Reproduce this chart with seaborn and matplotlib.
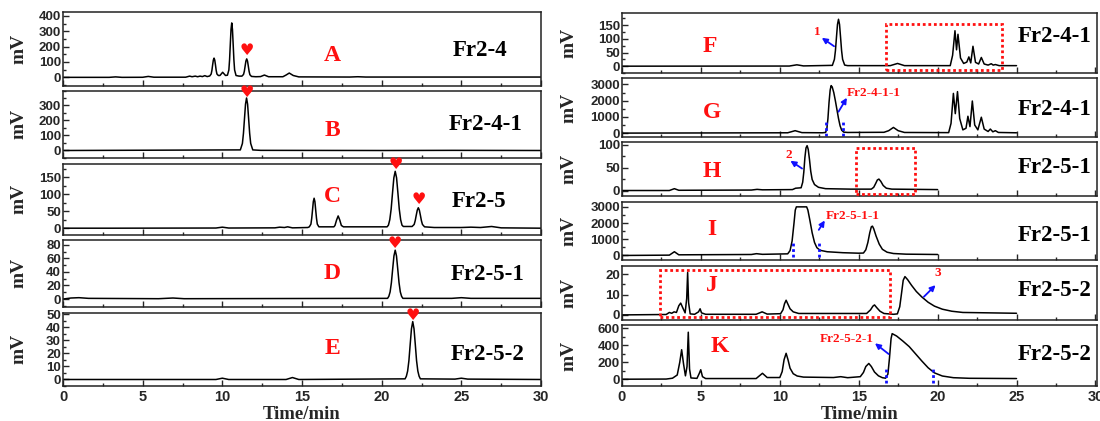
import matplotlib
matplotlib.use("Agg")
import matplotlib.pyplot as plt
from matplotlib.patches import Rectangle
from matplotlib.ticker import MultipleLocator
import seaborn as sns

# ---------------- data ----------------
a_t = [0, 2.9, 3.3, 3.7, 5.0, 5.35, 5.7, 7.7, 7.95, 8.1, 8.3, 8.45, 8.6, 8.75, 8.9, 9.05,
       9.21, 9.3, 9.345, 9.39, 9.435, 9.48, 9.525, 9.57, 9.615, 9.66, 9.75, 9.85, 10.02, 10.2,
       10.32, 10.41, 10.455, 10.5, 10.545, 10.59, 10.635, 10.68, 10.725, 10.77, 10.86, 11.05,
       11.23, 11.33, 11.38, 11.43, 11.48, 11.53, 11.58, 11.63, 11.68, 11.73, 11.83, 12.1, 12.4,
       12.64, 12.9, 13.8, 14.0, 14.2, 14.45, 14.8, 18.0, 18.5, 19.0, 30]
a_mv = [0, 0, 3, 0, 0.5, 6, 1, 1, 8, 4, 8, 4, 8, 5, 11, 5,
        9, 22, 45, 80, 112, 125, 112, 80, 45, 22, 12, 12, 33, 12,
        14, 48, 115, 215, 312, 354, 312, 215, 115, 48, 12, 8,
        8, 19, 39, 73, 106, 120, 106, 73, 39, 17, 6, 4, 5,
        15, 4, 4, 15, 28, 12, 3, 2, 4, 2, 2]

b_t = [0, 11.13, 11.26, 11.325, 11.39, 11.455, 11.52, 11.585, 11.65, 11.715, 11.78, 11.91, 12.4, 20, 24.5, 30]
b_mv = [0, 4, 47, 114, 212, 309, 350, 309, 212, 114, 47, 4, 1, 0, 1, 0]

c_t = [0, 3, 9.6, 10.0, 10.4, 13.3, 13.6, 13.9, 14.1, 14.4, 15.36, 15.46, 15.56, 15.61, 15.66, 15.71, 15.76,
       15.81, 15.86, 15.91, 15.96, 16.06, 16.3, 17.0, 17.07, 17.17, 17.27, 17.37, 17.47, 17.6,
       20.34, 20.425, 20.51, 20.595, 20.68, 20.765, 20.85, 20.935, 21.02, 21.105, 21.19, 21.275, 21.36,
       21.91, 22.04, 22.105, 22.17, 22.235, 22.3, 22.365, 22.43, 22.495, 22.56, 22.69, 23.3,
       25.0, 25.6, 26.2, 26.9, 27.5, 30]
c_mv = [0, 0, 0.5, 3, 0.5, 1, 3, 2, 4, 1, 2, 4, 12, 29, 53, 78, 88,
        78, 53, 29, 12, 4, 4, 4, 8, 24, 36, 24, 8, 4,
        4, 9, 25, 56, 103, 148, 167, 148, 103, 56, 25, 9, 5,
        5, 11, 22, 38, 53, 60, 53, 38, 22, 11, 4, 2,
        2, 3, 2, 5, 1, 0]

d_t = [0, 0.5, 1.0, 1.6, 6.0, 6.9, 7.6, 20.37, 20.45, 20.53, 20.61, 20.69, 20.77, 20.85, 20.93, 21.01, 21.09,
       21.17, 21.25, 21.33, 24.4, 25.0, 25.6, 30]
d_mv = [0, 1.5, 2, 1, 0.5, 1.5, 0.5, 1, 4, 10.5, 24, 44, 63.5, 72, 63.5, 44, 24,
        10.5, 4, 1, 1, 2, 1, 1]

e_t = [0, 9.6, 10.0, 10.4, 14.0, 14.4, 14.8, 21.47, 21.55, 21.63, 21.71, 21.79, 21.87, 21.95, 22.03, 22.11,
       22.19, 22.27, 22.35, 22.43, 24.6, 25.0, 25.4, 30]
e_mv = [0, 0, 1, 0, 0, 1.5, 0, 0.5, 2.5, 6.5, 14.5, 27, 39, 44.5, 39, 27,
        14.5, 6.5, 2.5, 0.5, 0.3, 1, 0.3, 0]

f_t = [0, 10.6, 11.08, 11.5, 13.33, 13.46, 13.525, 13.59, 13.655, 13.72, 13.785, 13.85, 13.915, 13.98, 14.11,
       14.3, 17.0, 17.46, 17.9, 20.8, 20.95, 21.1, 21.2, 21.29, 21.45, 21.65, 21.85, 21.98, 22.1, 22.24, 22.4,
       22.6, 22.77, 22.95, 23.2, 23.4, 23.52, 23.66, 23.9, 25]
f_mv = [0, 0.5, 5, 1, 3, 25, 57, 106, 153, 172, 153, 106, 57, 25, 4,
        2, 2, 10, 2, 2, 40, 130, 60, 117, 30, 10, 15, 34, 12, 73, 14,
        8, 32, 8, 4, 9, 4, 6, 2, 2]

g_t = [0, 10.5, 10.97, 11.4, 12.7, 12.9, 12.98, 13.05, 13.12, 13.19, 13.25, 13.32, 13.42, 13.52, 13.62, 13.72,
       13.82, 13.92, 14.05, 14.3, 16.6, 16.9, 17.2, 17.5, 17.9, 20.7, 20.85, 21.0, 21.12, 21.26, 21.4, 21.6,
       21.8, 21.92, 22.05, 22.2, 22.35, 22.55, 22.77, 22.95, 23.2, 23.34, 23.5, 23.66, 23.85, 25]
g_mv = [0, 20, 150, 30, 20, 40, 250, 900, 1900, 2650, 2930, 2850, 2500, 2000, 1450, 900,
        450, 180, 60, 40, 50, 150, 350, 150, 40, 30, 600, 2450, 1200, 2560, 900, 200,
        300, 1040, 400, 1980, 500, 200, 980, 250, 100, 250, 80, 150, 40, 20]

h_t = [0, 3.0, 3.32, 3.6, 8.2, 8.56, 8.9, 10.8, 11.0, 11.35, 11.45, 11.52, 11.59, 11.66, 11.73, 11.8, 11.88,
       11.96, 12.05, 12.2, 12.45, 12.9, 14.5, 15.8, 15.95, 16.07, 16.18, 16.28, 16.4, 16.55, 16.75, 17.1, 20]
h_mv = [0, 0, 4, 0.5, 1, 2.5, 1.5, 2, 5, 6, 18, 40, 72, 93, 98, 90, 68,
        42, 24, 13, 7, 4, 3, 3, 7, 15, 23, 25, 20, 11, 5, 3, 2]

i_t = [0, 3.0, 3.32, 3.6, 8.2, 8.52, 8.9, 10.5, 10.65, 10.78, 10.9, 10.98, 11.05, 11.7, 11.78, 11.9, 12.05,
       12.2, 12.35, 12.55, 13.0, 14.0, 15.0, 15.3, 15.45, 15.58, 15.7, 15.8, 15.87, 15.95, 16.1, 16.3, 16.5,
       16.8, 17.2, 18, 20]
i_mv = [0, 20, 230, 40, 60, 110, 70, 100, 300, 900, 2000, 2800, 3000, 3000, 2800, 2200, 1400,
        800, 480, 320, 230, 170, 140, 150, 350, 800, 1400, 1770, 1810, 1650, 1200, 700, 380,
        200, 120, 80, 60]

j_t = [0, 2.8, 3.0, 3.15, 3.3, 3.45, 3.6, 3.72, 3.85, 4.0, 4.1, 4.16, 4.22, 4.32, 4.6, 4.85, 4.95, 5.04, 5.3,
       8.5, 8.88, 9.2, 10.05, 10.2, 10.3, 10.4, 10.5, 10.65, 10.85, 11.2, 15.5, 15.75, 15.9, 16.0, 16.15, 16.35,
       16.6, 17.2, 17.45, 17.6, 17.72, 17.82, 17.93, 18.1, 18.35, 18.65, 19.0, 19.4, 19.8, 20.3, 20.9, 21.6, 25]
j_mv = [0, 0.2, 1.2, 0.8, 1.5, 1.2, 4.5, 5.8, 3.5, 1, 8, 20.8, 6, 0.5, 0.3, 1.5, 3, 1, 0.3,
        0.3, 1.5, 0.4, 0.6, 2.5, 5.5, 7.2, 5.5, 3, 1.5, 0.7, 0.7, 2.5, 4.3, 4.9, 3.5, 1.8,
        0.7, 0.3, 0.5, 4, 11, 17, 18.8, 17.3, 14.5, 11.5, 8.8, 6.2, 4.3, 2.8, 1.8, 1.2, 0.8]

k_t = [0, 2.8, 3.2, 3.5, 3.66, 3.78, 3.9, 4.02, 4.12, 4.2, 4.28, 4.37, 4.75, 4.9, 4.99, 5.1, 5.3, 8.5, 8.9, 9.2,
       10.0, 10.15, 10.27, 10.4, 10.52, 10.65, 10.85, 11.1, 11.5, 13.4, 13.86, 14.3, 15.1, 15.3, 15.45, 15.64,
       15.8, 16.0, 16.25, 16.5, 16.7, 16.85, 16.95, 17.05, 17.12, 17.4, 17.8, 18.2, 18.6, 19.0, 19.4, 19.8,
       20.3, 21.0, 22, 25]
k_mv = [0, 2, 12, 50, 200, 348, 180, 40, 150, 555, 120, 15, 10, 70, 112, 30, 8, 8, 70, 20,
        20, 90, 230, 306, 230, 130, 65, 38, 25, 20, 30, 18, 30, 80, 150, 186,
        150, 85, 40, 18, 12, 60, 250, 480, 538, 510, 450, 385, 300, 215, 135, 75,
        38, 18, 11, 8]

left_letters = ["A", "B", "C", "D", "E"]
left_names = ["Fr2-4", "Fr2-4-1", "Fr2-5", "Fr2-5-1", "Fr2-5-2"]
right_letters = ["F", "G", "H", "I", "J", "K"]
right_names = ["Fr2-4-1", "Fr2-4-1", "Fr2-5-1", "Fr2-5-1", "Fr2-5-2", "Fr2-5-2"]

left_yticks = [[0, 100, 200, 300, 400], [0, 100, 200, 300], [0, 50, 100, 150], [0, 20, 40, 60, 80],
               [0, 10, 20, 30, 40, 50]]
right_yticks = [[0, 50, 100, 150], [0, 1000, 2000, 3000], [0, 50, 100], [0, 1000, 2000, 3000], [0, 10, 20],
                [0, 200, 400, 600]]
x_ticks = [0, 5, 10, 15, 20, 25, 30]

# hearts marking target peaks (panel index, time, mV)
heart_t = [11.53, 11.52, 20.87, 22.35, 20.85, 21.95]
heart_mv = [172, 388, 186, 84, 82, 49.5]
heart_panel = [0, 1, 2, 2, 3, 4]

# ---------------- style ----------------
sns.set_style("ticks")
plt.rcParams["font.family"] = ["Liberation Serif", "DejaVu Sans"]
plt.rcParams["font.weight"] = "bold"
plt.rcParams["axes.linewidth"] = 1.1
plt.rcParams["axes.edgecolor"] = "#222222"

fig = plt.figure(figsize=(11, 4.21), dpi=100)
W, H = 1100, 421


def make_axes(l, r, t, b):
    return fig.add_axes([l / W, 1 - b / H, (r - l) / W, (b - t) / H])


left_box = [(12, 85.5), (90.5, 158), (163.5, 235), (240, 306.5), (312.5, 386)]
right_box = [(13, 73), (78, 137), (142, 196), (202, 260), (266, 320), (325, 386)]
left_ylim = [(-53, 425), (-50, 400), (-20, 190), (-11, 87), (-5, 51.5)]
right_ylim = [(-25, 195), (-240, 3400), (-12, 106), (-280, 3300), (-2.5, 24), (-80, 640)]
left_series = [(a_t, a_mv), (b_t, b_mv), (c_t, c_mv), (d_t, d_mv), (e_t, e_mv)]
right_series = [(f_t, f_mv), (g_t, g_mv), (h_t, h_mv), (i_t, i_mv), (j_t, j_mv), (k_t, k_mv)]
left_letter_pos = [(0.563, 0.41), (0.563, 0.41), (0.563, 0.54), (0.563, 0.49), (0.563, 0.51)]
left_name_pos = [(0.872, 0.48), (0.885, 0.49), (0.87, 0.47), (0.888, 0.48), (0.888, 0.43)]
right_letter_pos = [(0.186, 0.45), (0.19, 0.41), (0.19, 0.45), (0.19, 0.52), (0.19, 0.64), (0.205, 0.64)]
right_name_pos = [(0.91, 0.6), (0.91, 0.47), (0.91, 0.52), (0.91, 0.43), (0.91, 0.54), (0.91, 0.52)]

SANS = "Liberation Sans"


def style_axes(ax, yt, ylim, bottom, xmax=30):
    ax.set_xlim(0, xmax)
    ax.set_ylim(*ylim)
    ax.set_xticks(x_ticks)
    ax.xaxis.set_minor_locator(MultipleLocator(2.5))
    ax.set_yticks(yt)
    step = yt[1] - yt[0]
    ax.yaxis.set_minor_locator(MultipleLocator(step / 2))
    ax.tick_params(axis="both", which="both", direction="in", top=False, right=False, width=1.0)
    ax.tick_params(axis="both", which="major", length=4)
    ax.tick_params(axis="both", which="minor", length=2.5)
    ax.tick_params(axis="y", pad=1.5)
    ax.tick_params(axis="x", pad=3)
    for lab in ax.get_yticklabels():
        lab.set_fontfamily(SANS)
        lab.set_fontweight("bold")
        lab.set_fontsize(9.5)
    if bottom:
        for lab in ax.get_xticklabels():
            lab.set_fontfamily(SANS)
            lab.set_fontweight("bold")
            lab.set_fontsize(10.5)
        ax.set_xlabel("Time/min", fontsize=13.5, fontweight="bold", labelpad=1)
    else:
        ax.set_xticklabels([])
        ax.set_xlabel("")
    ax.set_ylabel("")
    for s in ax.spines.values():
        s.set_visible(True)


LETTER_SIZE = 17
NAME_SIZE = 16.5

left_axes = []
for i, (box, ser) in enumerate(zip(left_box, left_series)):
    ax = make_axes(63, 541, box[0], box[1])
    sns.lineplot(x=ser[0], y=ser[1], ax=ax, color="black", linewidth=1.1, estimator=None, sort=False)
    style_axes(ax, left_yticks[i], left_ylim[i], i == 4)
    ax.text(*left_letter_pos[i], left_letters[i], transform=ax.transAxes, color="#ff1010", fontsize=LETTER_SIZE,
            fontweight="bold", ha="center", va="center")
    ax.text(*left_name_pos[i], left_names[i], transform=ax.transAxes, color="black", fontsize=NAME_SIZE,
            fontweight="bold", ha="center", va="center")
    fig.text(19.5 / W, 1 - (box[0] + box[1]) / 2 / H, "mV", rotation=90, fontsize=14, fontweight="bold",
             ha="center", va="center")
    left_axes.append(ax)

for p, ht, hm in zip(heart_panel, heart_t, heart_mv):
    left_axes[p].text(ht, hm, "\u2665", color="#ff1010", fontsize=11.5, ha="center", va="center",
                      family="DejaVu Sans", clip_on=False, zorder=5)

right_axes = []
for i, (box, ser) in enumerate(zip(right_box, right_series)):
    ax = make_axes(622, 1097, box[0], box[1])
    sns.lineplot(x=ser[0], y=ser[1], ax=ax, color="black", linewidth=1.1, estimator=None, sort=False)
    style_axes(ax, right_yticks[i], right_ylim[i], i == 5, xmax=30.1)
    ax.text(*right_letter_pos[i], right_letters[i], transform=ax.transAxes, color="#ff1010", fontsize=LETTER_SIZE,
            fontweight="bold", ha="center", va="center")
    ax.text(*right_name_pos[i], right_names[i], transform=ax.transAxes, color="black", fontsize=NAME_SIZE,
            fontweight="bold", ha="center", va="center")
    fig.text(569 / W, 1 - (box[0] + box[1]) / 2 / H, "mV", rotation=90, fontsize=14, fontweight="bold",
             ha="center", va="center")
    right_axes.append(ax)

RED = "#ff1010"
BLUE = "#1010ff"
arrow = dict(arrowstyle="-|>", color=BLUE, lw=1.3, mutation_scale=8, shrinkA=0, shrinkB=0)
dots = (0, (1, 1))

axF, axG, axH, axI, axJ, axK = right_axes
# F
axF.annotate("", xy=(12.66, 104), xytext=(13.44, 73), arrowprops=arrow)
axF.text(12.35, 124, "1", color=RED, fontsize=9.5, fontweight="bold", ha="center", va="center")
axF.add_patch(Rectangle((16.74, -13), 24.1 - 16.74, 166, fill=False, edgecolor=RED, lw=2, linestyle=dots,
                        zorder=4))
# G
axG.annotate("", xy=(14.25, 2180), xytext=(13.72, 1320), arrowprops=arrow)
axG.text(14.25, 2450, "Fr2-4-1-1", color=RED, fontsize=9.5, fontweight="bold", ha="left", va="center")
for xv in (12.92, 14.03):
    axG.plot([xv, xv], [-150, 800], color=BLUE, lw=2, linestyle=dots)
# H
axH.annotate("", xy=(10.67, 65), xytext=(11.41, 48), arrowprops=arrow)
axH.text(10.57, 78, "2", color=RED, fontsize=9.5, fontweight="bold", ha="center", va="center")
axH.add_patch(Rectangle((14.8, -8), 18.56 - 14.8, 100, fill=False, edgecolor=RED, lw=2, linestyle=dots,
                        zorder=4))
# I
axI.annotate("", xy=(12.85, 2160), xytext=(12.47, 1580), arrowprops=arrow)
axI.text(12.9, 2460, "Fr2-5-1-1", color=RED, fontsize=9.5, fontweight="bold", ha="left", va="center")
for xv in (10.82, 12.47):
    axI.plot([xv, xv], [-100, 900], color=BLUE, lw=2, linestyle=dots)
# J
axJ.annotate("", xy=(19.87, 14.6), xytext=(19.13, 8.9), arrowprops=arrow)
axJ.text(20.0, 20.8, "3", color=RED, fontsize=9.5, fontweight="bold", ha="center", va="center")
axJ.add_patch(Rectangle((2.39, -1.0), 16.98 - 2.39, 23.2, fill=False, edgecolor=RED, lw=2, linestyle=dots,
                        zorder=4))
# K
axK.annotate("", xy=(16.03, 424), xytext=(16.9, 297), arrowprops=arrow)
axK.text(15.95, 470, "Fr2-5-2-1", color=RED, fontsize=9.5, fontweight="bold", ha="right", va="center")
for xv in (16.7, 19.7):
    axK.plot([xv, xv], [-40, 150], color=BLUE, lw=2, linestyle=dots)

fig.savefig("out.png", dpi=100)
